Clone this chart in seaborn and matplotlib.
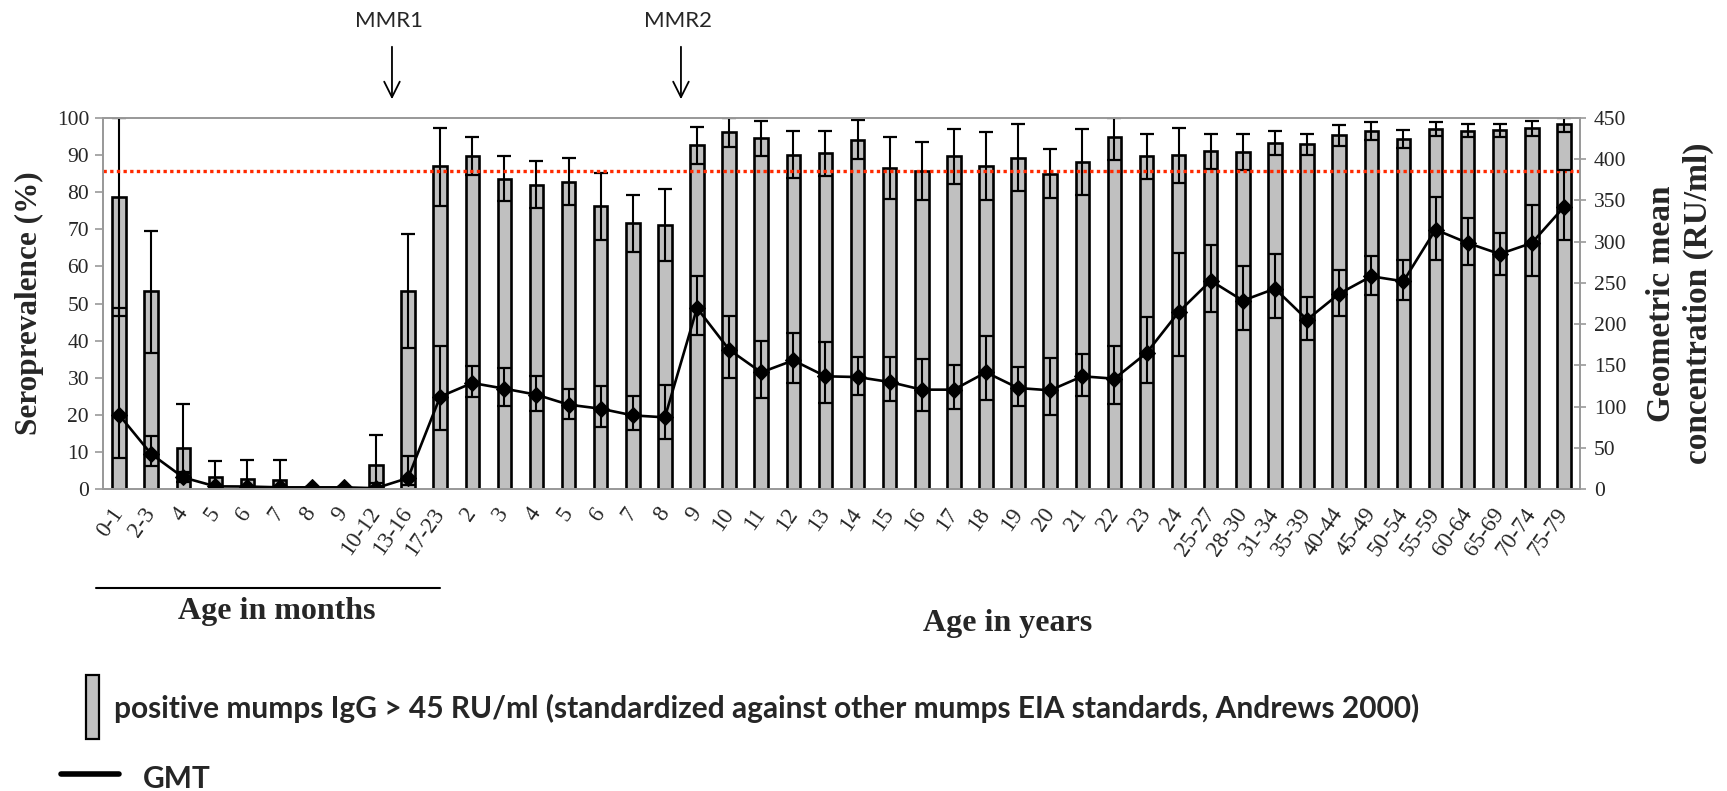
import numpy as np
import pandas as pd
import matplotlib.pyplot as plt
import seaborn as sns
from matplotlib.lines import Line2D
from matplotlib.patches import Rectangle

# Age groups (months first, then years)
age_labels = ['0-1', '2-3', '4', '5', '6', '7', '8', '9', '10-12', '13-16', '17-23',
              '2', '3', '4', '5', '6', '7', '8', '9', '10', '11', '12', '13', '14',
              '15', '16', '17', '18', '19', '20', '21', '22', '23', '24',
              '25-27', '28-30', '31-34', '35-39', '40-44', '45-49', '50-54',
              '55-59', '60-64', '65-69', '70-74', '75-79']

# Seroprevalence (%) and 95% CI
sero = [78.7, 53.3, 11.1, 3.2, 2.7, 2.5, 0, 0, 6.6, 53.3, 87.0,
        89.8, 83.6, 82.0, 82.8, 76.2, 71.7, 71.2, 92.6, 96.3, 94.6, 90.1, 90.6, 94.2,
        86.4, 85.8, 89.8, 87.0, 89.2, 85.0, 88.1, 94.8, 89.7, 89.9,
        91.0, 90.8, 93.3, 93.0, 95.5, 96.6, 94.4, 97.0, 96.6, 96.7, 97.2, 98.4]
sero_lo = [46.7, 36.7, 4.5, 0.5, 0.5, 0.4, 0, 0, 1.5, 38.0, 76.4,
           84.7, 77.5, 75.7, 76.5, 67.0, 63.9, 61.5, 87.7, 92.2, 89.7, 83.8, 84.5, 88.9,
           78.2, 78.0, 82.3, 77.8, 80.2, 78.4, 79.2, 88.6, 83.6, 82.5,
           86.3, 86.1, 89.9, 89.9, 92.5, 94.0, 91.9, 95.1, 94.8, 94.8, 95.2, 96.1]
sero_hi = [100, 69.5, 23.0, 7.6, 7.9, 7.9, 0, 0, 14.5, 68.6, 97.3,
           94.9, 89.7, 88.3, 89.1, 85.2, 79.3, 80.9, 97.5, 100, 99.1, 96.4, 96.4, 99.4,
           94.8, 93.4, 97.0, 96.2, 98.4, 91.6, 97.0, 100, 95.8, 97.3,
           95.8, 95.7, 96.4, 95.8, 98.2, 98.9, 96.9, 98.8, 98.5, 98.5, 99.1, 100]

# Geometric mean concentration (RU/ml) and 95% CI
gmt = [90, 42.5, 14, 3.2, 3, 2, 2, 2, 1, 13.3, 112,
       128.6, 121.7, 114.4, 102.3, 97.4, 89.3, 86.9, 219.5, 169, 141.5, 156, 136.7, 135.8,
       129.8, 120.5, 120.5, 141.5, 122.5, 119.7, 136.7, 133.8, 165, 214.6,
       252.7, 228.5, 243, 205.4, 236.9, 258, 251.9, 314.6, 298.4, 285, 298.4, 342.1]
gmt_lo = [37.5, 27.5, 9, 3.2, 3, 2, 2, 2, 1, 5, 72,
          112, 100.3, 94.2, 85.3, 75.2, 71.2, 60.6, 186.4, 134.6, 110.4, 128.6, 104.3, 114.4,
          106.3, 94.2, 97.4, 108.4, 101.1, 90.2, 113.2, 103.5, 128.6, 160.9,
          214.6, 193.3, 207.5, 181.1, 209.4, 235.7, 229.6, 278.2, 272.1, 260, 258, 302.4]
gmt_hi = [219, 64, 20, 3.2, 3, 2, 2, 2, 1, 39.6, 173,
          149, 146.8, 136.7, 121.3, 125.3, 113.2, 125.7, 258.8, 209.4, 179.1, 189.2, 178.3, 159.7,
          160.1, 157.7, 150.8, 185.2, 148, 158.9, 164.2, 173.0, 208.6, 286.2,
          296.3, 270.1, 285, 232.9, 266, 282.2, 277.4, 354.2, 328.7, 310.5, 344.9, 387.4]

threshold = 85.6

sns.set_style('white')
plt.rcParams['font.family'] = ['Liberation Serif', 'DejaVu Serif']

df = pd.DataFrame({'pos': np.arange(len(age_labels)), 'sero': sero, 'gmt': gmt})
sero_arr = np.array(sero)
gmt_arr = np.array(gmt)

W, H = 1727, 791
fig = plt.figure(figsize=(W / 100, H / 100), dpi=100)
ax = fig.add_axes([103 / W, 1 - 489 / H, (1580 - 103) / W, (489 - 118) / H])

# bars
sns.barplot(data=df, x='pos', y='sero', color='#C0C0C0', saturation=1,
            edgecolor='black', linewidth=1.9, width=0.42, ax=ax, errorbar=None)
ax.errorbar(df['pos'], sero_arr,
            yerr=[sero_arr - np.array(sero_lo), np.array(sero_hi) - sero_arr],
            fmt='none', ecolor='black', elinewidth=1.5, capsize=4.8, capthick=1.6, zorder=3)
ax.axhline(threshold, color='#FF2A00', linestyle=(0, (1, 1)), linewidth=2.4, zorder=4)

ax.set_xlim(-0.5, len(age_labels) - 0.5)
ax.set_ylim(0, 100)
ax.set_yticks(np.arange(0, 101, 10))
ax.set_xticks(np.arange(len(age_labels)))
ax.set_xticklabels(age_labels, rotation=55, ha='right', va='center',
                   rotation_mode='anchor', fontsize=16.5)
ax.set_xticks(np.arange(-0.5, len(age_labels), 1), minor=True)
ax.tick_params(axis='x', which='major', length=0, pad=15)
ax.tick_params(axis='x', which='minor', length=6, color='#9a9a9a', width=1.2)
ax.tick_params(axis='y', length=6, color='#9a9a9a', width=1.2, labelsize=15.5, pad=4)
ax.set_xlabel('')
ax.set_ylabel('Seroprevalence (%)', fontsize=22.5, fontweight='bold', labelpad=9)

# GMT line on secondary axis
ax2 = ax.twinx()
sns.lineplot(data=df, x='pos', y='gmt', color='black', marker='D', markersize=8,
             markeredgecolor='black', linewidth=1.9, ax=ax2)
ax2.errorbar(df['pos'], gmt_arr,
             yerr=[gmt_arr - np.array(gmt_lo), np.array(gmt_hi) - gmt_arr],
             fmt='none', ecolor='black', elinewidth=1.5, capsize=4.8, capthick=1.6)
ax2.set_ylim(0, 450)
ax2.set_yticks(np.arange(0, 451, 50))
ax2.tick_params(axis='y', length=8, direction='inout', color='#9a9a9a', width=1.2,
                labelsize=15.5, pad=6)
ax2.set_ylabel('Geometric mean\nconcentration (RU/ml)', fontsize=24, fontweight='bold',
               linespacing=1.25, labelpad=14)
ax2.set_xlim(-0.5, len(age_labels) - 0.5)

for a in (ax, ax2):
    for s in a.spines.values():
        s.set_color('#9a9a9a')
        s.set_linewidth(1.4)

# vaccination arrows
for xpos, name in [(8.5, 'MMR1'), (17.5, 'MMR2')]:
    ax.annotate('', xy=(xpos, H - 102), xytext=(xpos, H - 44),
                xycoords=('data', 'figure pixels'), textcoords=('data', 'figure pixels'),
                arrowprops=dict(arrowstyle='->', lw=1.3, color='black', mutation_scale=28))
    ax.annotate(name, xy=(xpos - 0.1, H - 21), xycoords=('data', 'figure pixels'),
                ha='center', va='center', fontsize=16, family=['Lato', 'DejaVu Sans'])

# x axis group labels
fig.add_artist(Line2D([96 / W, 440 / W], [1 - 588 / H, 1 - 588 / H], color='black', lw=1.5))
fig.text(277 / W, 1 - 612 / H, 'Age in months', ha='center', va='center',
         fontsize=23, fontweight='bold')
fig.text(1008 / W, 1 - 624 / H, 'Age in years', ha='center', va='center',
         fontsize=23, fontweight='bold')

# legend
fig.add_artist(Rectangle((86 / W, 1 - 739 / H), 13 / W, 64 / H, facecolor='#C0C0C0',
                         edgecolor='black', lw=1.6, transform=fig.transFigure))
fig.text(114 / W, 1 - 708 / H,
         'positive mumps IgG > 45 RU/ml (standardized against other mumps EIA standards, Andrews 2000)',
         ha='left', va='center', fontsize=21.5, fontweight='bold', family=['Lato', 'DejaVu Sans'])
fig.add_artist(Line2D([61 / W, 119 / W], [1 - 774 / H, 1 - 774 / H], color='black', lw=4))
fig.text(143 / W, 1 - 779 / H, 'GMT', ha='left', va='center', fontsize=21.5,
         fontweight='bold', family=['Lato', 'DejaVu Sans'])

fig.savefig('out.png', dpi=100)
